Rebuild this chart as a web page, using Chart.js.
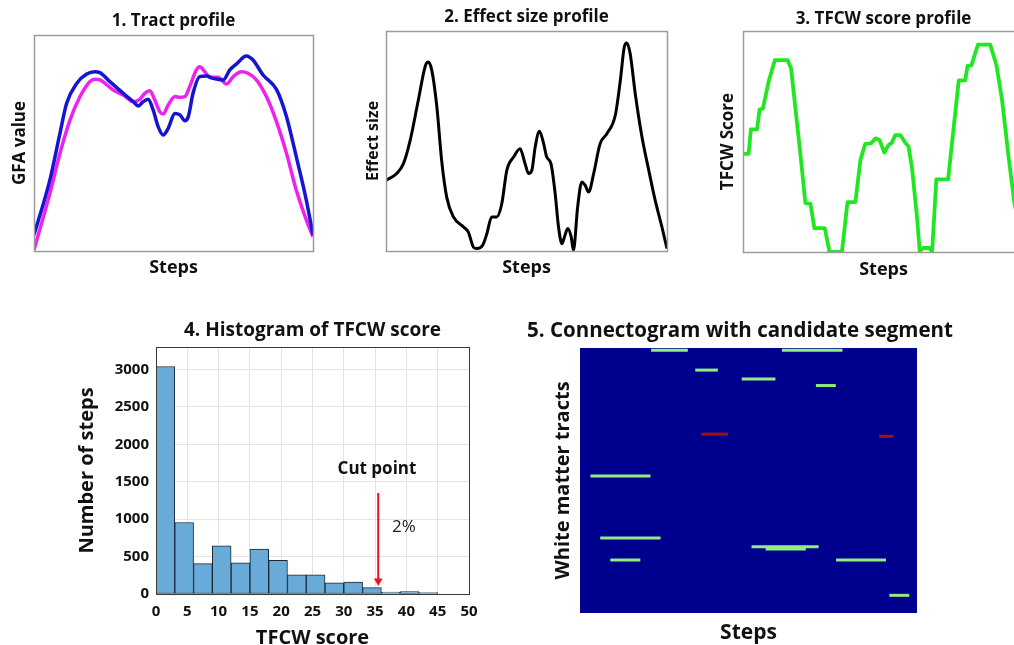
<!DOCTYPE html>
<html><head><meta charset="utf-8">
<script src="https://cdn.jsdelivr.net/npm/chart.js@4.4.1/dist/chart.umd.min.js"></script>
<style>
html,body{margin:0;padding:0;background:#fff;overflow:hidden;width:1014px;height:645px;position:relative;}
canvas{position:absolute;}
</style></head><body>
<canvas id="c1" width="330" height="290" style="left:0px;top:0px"></canvas>
<canvas id="c2" width="340" height="290" style="left:340px;top:0px"></canvas>
<canvas id="c3" width="360" height="290" style="left:680px;top:0px"></canvas>
<canvas id="c4" width="460" height="345" style="left:40px;top:310px"></canvas>
<canvas id="c5" width="460" height="345" style="left:510px;top:310px"></canvas>
<script>
// ---------- Panel 1: tract profile ----------
const blueSteps = [0,5.7,9.3,11.7,15.3,18.9,21.8,23.6,27.2,32.0,35.6,37.4,39.1,40.9,42.7,44.5,46.3,48.1,50.5,52.3,54.1,55.3,57.0,59.4,61.8,64.2,67.8,70.2,72.6,76.1,78.5,82.1,86.9,90.5,94.0,97.6,100];
const blueGFA = [7.4,32.9,54.5,68.4,77.6,81.9,83.0,82.6,78.4,73.0,69.1,67.1,69.1,70.2,65.3,57.6,53.7,56.8,63.7,63.0,60.3,62.2,73.0,80.7,81.0,79.9,79.2,83.8,86.6,90.3,88.4,81.5,74.8,62.2,43.7,23.6,7.4];
const magentaSteps = [0,5.7,9.3,12.9,16.5,20.0,21.8,23.6,28.4,32.0,35.6,37.9,39.7,41.5,43.3,45.1,46.3,48.1,50.5,52.3,54.1,55.8,58.2,59.4,61.2,63.0,66.0,69.0,71.4,74.3,76.7,79.7,83.3,86.9,90.5,94.0,97.6,100];
const magentaGFA = [0.5,26.7,45.2,60.6,71.5,78.4,79.5,79.2,74.5,72.2,69.1,70.2,73.0,74.2,69.9,64.5,63.4,67.6,71.5,71.1,71.5,76.1,83.8,85.3,83.0,80.4,80.4,77.3,80.7,83.0,82.3,79.2,71.5,59.9,45.2,28.2,14.4,6.6];

// ---------- Panel 2: effect size profile ----------
const effectSteps = [0,3.8,6.2,8.6,11.5,14.3,15.1,16.3,18.1,19.8,21.6,24.0,27.6,29.3,31.1,32.3,34.4,35.9,37.6,39.4,41.2,43.0,45.4,47.7,49.5,50.7,51.9,53.1,54.6,56.1,57.2,58.7,60.2,61.4,62.6,63.5,64.7,65.9,66.7,68.2,69.7,70.9,72.1,73.9,76.2,78.6,81.6,83.4,84.8,85.7,86.9,88.7,91.1,93.5,95.8,98.2,100];
const effectSize = [32.1,35.2,39.7,50.3,68.5,85.2,85.9,82.1,65.5,41.2,24.5,15.5,10.9,8.6,1.8,1.1,2.6,7.9,15.5,15.5,21.5,36.7,42.7,46.5,39.7,35.2,36.7,47.3,54.4,48.8,42.7,39.7,26.1,10.9,3.3,6.4,10.2,6.4,0.3,20.0,31.4,29.8,26.8,35.2,48.8,53.3,61.7,77.6,92.7,94.5,89.7,71.5,51.8,36.7,23.0,10.9,1.1];

// ---------- Panel 3: TFCW score profile ----------
const tfcwSteps = [0,2.0,2.8,5.0,5.9,7.1,9.1,11.3,15.9,17.1,18.6,20.4,22.2,24.0,25.4,29.1,30.8,35.2,37.2,40.0,41.8,43.5,45.6,47.1,48.6,50.3,51.8,53.0,54.2,56.0,57.7,58.9,60.1,61.9,62.9,64.1,66.4,67.3,68.8,73.0,75.0,76.8,79.1,79.9,81.3,83.6,88.0,90.2,92.2,94.5,96.6,98.7,100];
const tfcwScore = [44.4,44.4,55.5,55.5,64.5,65.0,77.0,86.8,86.8,83.0,65.7,44.7,22.1,21.8,10.8,10.8,0,0,22.6,22.6,41.7,48.9,49.2,51.4,50.7,45.0,48.4,49.5,52.9,52.9,49.5,47.7,38.6,16.1,0.3,1.8,1.8,0,32.9,32.9,56.7,77.7,77.7,84.2,84.5,93.8,93.8,84.5,68.7,43.2,22.1,10,6];

// ---------- Panel 4: histogram ----------
const binStart = [0,3,6,9,12,15,18,21,24,27,30,33,36,39,42];
const binWidth = 3;
const binCounts = [3040,955,405,645,415,600,450,255,255,150,158,85,25,32,20];
const yTickValues = [0,500,1000,1500,2000,2500,3000];
const xTickValues = [0,5,10,15,20,25,30,35,40,45,50];
const cutScore = 35.5;
const cutArrowFrom = 1350;
const cutArrowTo = 175;
const cutLabel = {text:'Cut point', x:35.3, y:1670};
const pctLabel = {text:'2%', x:39.6, y:890};

// ---------- Panel 5: connectogram segments ----------
const segStart = [21.1,59.9,34.2,48.0,70.0,36.0,88.8,3.1,6.0,50.9,55.1,9.0,76.0,91.8];
const segEnd   = [32.0,77.9,40.9,58.0,75.9,43.9,93.0,20.9,23.9,70.8,67.0,17.9,90.8,97.7];
const segTract = [1,1,10,14,17,39,40,58,86,90,91,96,96,112];
const segKind  = ['g','g','g','g','g','r','r','g','g','g','g','g','g','g'];

const FONT = "'Open Sans', Lato, sans-serif";
Chart.defaults.font.family = FONT;
Chart.defaults.color = '#111';

const pts = (xs, ys) => xs.map((x, i) => ({x, y: ys[i]}));

const framePlugin = {
  id: 'frame',
  beforeDatasetsDraw(chart, args, o) {
    if (o.fill) {
      const a = chart.chartArea, c = chart.ctx;
      c.save(); c.fillStyle = o.fill; c.fillRect(a.left, a.top, a.right - a.left, a.bottom - a.top); c.restore();
    }
  },
  afterDraw(chart, args, o) {
    if (o.color) {
      const a = chart.chartArea, c = chart.ctx;
      c.save(); c.strokeStyle = o.color; c.lineWidth = o.width || 1;
      c.strokeRect(Math.round(a.left) + 0.5, Math.round(a.top) + 0.5, Math.round(a.right - a.left), Math.round(a.bottom - a.top));
      c.restore();
    }
  }
};
const labelsPlugin = {
  id: 'labels',
  afterDatasetsDraw(chart, args, o) {
    if (!o.items) return;
    const c = chart.ctx, xs = chart.scales.x, ys = chart.scales.y;
    c.save();
    o.items.forEach(it => {
      c.font = it.font; c.fillStyle = it.color || '#111';
      c.textAlign = 'center'; c.textBaseline = 'middle';
      c.fillText(it.text, xs.getPixelForValue(it.x), ys.getPixelForValue(it.y));
    });
    c.restore();
  }
};
Chart.register(framePlugin, labelsPlugin);

function profile(id, p) {
  return new Chart(document.getElementById(id), {
    type: 'line',
    data: {datasets: p.datasets},
    options: {
      responsive: false, animation: false, devicePixelRatio: 1,
      layout: {padding: {left: 0, top: 0, right: p.padRight, bottom: 0}},
      elements: {point: {radius: 0}},
      plugins: {
        legend: {display: false}, tooltip: {enabled: false},
        title: {display: true, text: p.title, fullSize: false, color: '#111',
          font: {size: 17, weight: 'bold', lineHeight: 1.2}, padding: {top: p.tTop, bottom: p.tBot}},
        frame: {color: '#9b9b9b', width: 1.5}
      },
      scales: {
        x: {type: 'linear', min: 0, max: 100, grid: {display: false}, border: {display: false}, ticks: {display: false},
          title: {display: true, text: 'Steps', color: '#111', font: {size: 18, weight: 'bold', lineHeight: 1.2}, padding: {top: 0, bottom: p.xBot}},
          afterFit: s => { s.height = p.xH; }},
        y: {type: 'linear', min: 0, max: 100, grid: {display: false}, border: {display: false}, ticks: {display: false},
          title: {display: true, text: p.yTitle, color: '#111', font: {size: p.yFont, weight: 'bold', lineHeight: 1.2}, padding: {top: p.yTop, bottom: 0}},
          afterFit: s => { s.width = p.yW; }}
      }
    }
  });
}

profile('c1', {
  title: '1. Tract profile', yTitle: 'GFA value', yFont: 17,
  tTop: 10.8, tBot: 3.8, xBot: 11.2, xH: 39, yTop: 9.8, yW: 34, padRight: 17,
  datasets: [
    {data: pts(blueSteps, blueGFA), borderColor: '#1414D2', borderWidth: 3.5, cubicInterpolationMode: 'monotone'},
    {data: pts(magentaSteps, magentaGFA), borderColor: '#EE22EE', borderWidth: 3.5, cubicInterpolationMode: 'monotone'}
  ]
});
profile('c2', {
  title: '2. Effect size profile', yTitle: 'Effect size', yFont: 16,
  tTop: 6.8, tBot: 3.8, xBot: 11.2, xH: 39, yTop: 23.4, yW: 46, padRight: 13,
  datasets: [
    {data: pts(effectSteps, effectSize), borderColor: '#000', borderWidth: 3, cubicInterpolationMode: 'monotone'}
  ]
});
profile('c3', {
  title: '3. TFCW score profile', yTitle: 'TFCW Score', yFont: 17,
  tTop: 8.8, tBot: 1.8, xBot: 9.2, xH: 38, yTop: 37.8, yW: 63, padRight: 16,
  datasets: [
    {data: pts(tfcwSteps, tfcwScore), borderColor: '#22E622', borderWidth: 3.8, tension: 0, borderJoinStyle: 'round'}
  ]
});

// ---------- Histogram ----------
new Chart(document.getElementById('c4'), {
  type: 'bar',
  data: {datasets: [
    {type: 'bar', data: pts(binStart.map(s => s + binWidth / 2), binCounts),
      backgroundColor: '#68ABD9', borderColor: '#1c2733', borderWidth: 1, borderSkipped: false,
      barPercentage: 1, categoryPercentage: 1, order: 2},
    {type: 'line', data: [{x: cutScore, y: cutArrowFrom}, {x: cutScore, y: cutArrowTo}],
      borderColor: '#E8141B', borderWidth: 2, pointStyle: 'triangle', pointRadius: [0, 5], pointRotation: 180,
      pointBackgroundColor: '#E8141B', pointBorderWidth: 0, order: 1}
  ]},
  options: {
    responsive: false, animation: false, devicePixelRatio: 1,
    layout: {padding: {left: 0, top: 0, right: 31, bottom: 0}},
    plugins: {
      legend: {display: false}, tooltip: {enabled: false},
      title: {display: true, text: '4. Histogram of TFCW score', fullSize: false, color: '#111',
        font: {size: 19, weight: 'bold', lineHeight: 1.2}, padding: {top: 9.6, bottom: 4.6}},
      frame: {color: '#3a3a3a', width: 1},
      labels: {items: [
        {text: cutLabel.text, x: cutLabel.x, y: cutLabel.y, font: "bold 17px " + FONT},
        {text: pctLabel.text, x: pctLabel.x, y: pctLabel.y, font: "17px " + FONT, color: '#222'}
      ]}
    },
    scales: {
      x: {type: 'linear', min: 0, max: 50, offset: false,
        grid: {offset: false, color: '#e4e4e4', drawTicks: false}, border: {display: false},
        afterBuildTicks: s => { s.ticks = xTickValues.map(v => ({value: v})); },
        ticks: {autoSkip: false, padding: 9, color: '#111', font: {size: 15, weight: 'bold'}, callback: v => String(v)},
        title: {display: true, text: 'TFCW score', color: '#111', font: {size: 20, weight: 'bold', lineHeight: 1.2}, padding: {top: 0, bottom: 5}},
        afterFit: s => { s.height = 61; }},
      y: {type: 'linear', min: 0, max: 3300,
        grid: {color: '#e4e4e4', drawTicks: false}, border: {display: false},
        afterBuildTicks: s => { s.ticks = yTickValues.map(v => ({value: v})); },
        ticks: {autoSkip: false, padding: 7, color: '#111', font: {size: 15, weight: 'bold'}, callback: v => String(v)},
        title: {display: true, text: 'Number of steps', color: '#111', font: {size: 20, weight: 'bold', lineHeight: 1.2}, padding: {top: 35, bottom: 0}},
        afterFit: s => { s.width = 116; }}
    }
  }
});

// ---------- Connectogram ----------
new Chart(document.getElementById('c5'), {
  type: 'line',
  data: {datasets: segStart.map((s, i) => ({
    data: [{x: s, y: segTract[i]}, {x: segEnd[i], y: segTract[i]}],
    borderColor: segKind[i] === 'r' ? '#A01212' : '#90EE80', borderWidth: 3, pointRadius: 0, borderCapStyle: 'butt'
  }))},
  options: {
    responsive: false, animation: false, devicePixelRatio: 1,
    layout: {padding: {left: 0, top: 0, right: 0, bottom: 0}},
    plugins: {
      legend: {display: false}, tooltip: {enabled: false},
      title: {display: true, text: '5. Connectogram with candidate segment', fullSize: true, color: '#111',
        font: {size: 20.5, weight: 'bold', lineHeight: 1.2}, padding: {top: 8.7, bottom: 4.7}},
      frame: {fill: '#00008F'}
    },
    scales: {
      x: {type: 'linear', min: 0, max: 100, grid: {display: false}, border: {display: false}, ticks: {display: false},
        title: {display: true, text: 'Steps', color: '#111', font: {size: 21, weight: 'bold', lineHeight: 1.2}, padding: {top: 0, bottom: 9.4}},
        afterFit: s => { s.height = 42; }},
      y: {type: 'linear', min: 0, max: 120, reverse: true, grid: {display: false}, border: {display: false}, ticks: {display: false},
        title: {display: true, text: 'White matter tracts', color: '#111', font: {size: 20, weight: 'bold', lineHeight: 1.2}, padding: {top: 41, bottom: 0}},
        afterFit: s => { s.width = 70; }},
      yR: {type: 'linear', axis: 'y', position: 'right', display: true, min: 0, max: 1,
        grid: {display: false}, border: {display: false}, ticks: {display: false},
        afterFit: s => { s.width = 53; }}
    }
  }
});
</script>
</body></html>
